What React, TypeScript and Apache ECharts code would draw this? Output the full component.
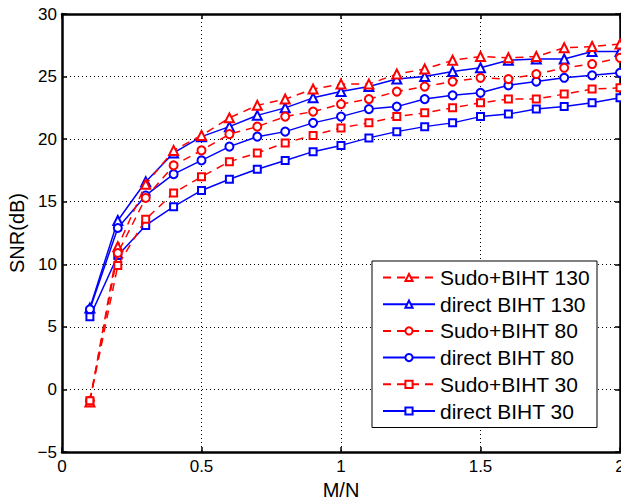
import React, { useEffect, useRef } from "react";
import * as echarts from "echarts";

const xValues = [0.1, 0.2, 0.3, 0.4, 0.5, 0.6, 0.7, 0.8, 0.9, 1.0, 1.1, 1.2, 1.3, 1.4, 1.5, 1.6, 1.7, 1.8, 1.9, 2.0];
const sudo130 = [-1.0, 11.4, 16.4, 19.1, 20.3, 21.7, 22.7, 23.2, 24.0, 24.4, 24.4, 25.2, 25.6, 26.3, 26.6, 26.5, 26.6, 27.3, 27.4, 27.6];
const direct130 = [6.5, 13.5, 16.6, 18.9, 20.2, 21.0, 21.9, 22.5, 23.3, 23.8, 24.2, 24.8, 25.0, 25.4, 25.7, 26.3, 26.4, 26.4, 27.0, 27.0];
const sudo80 = [-0.9, 10.9, 15.3, 17.9, 19.1, 20.4, 21.0, 21.8, 22.2, 22.8, 23.2, 23.8, 24.2, 24.6, 24.9, 24.8, 25.2, 25.7, 26.0, 26.5];
const direct80 = [6.4, 12.9, 15.5, 17.2, 18.3, 19.4, 20.2, 20.6, 21.3, 21.8, 22.4, 22.6, 23.2, 23.5, 23.7, 24.3, 24.6, 24.9, 25.1, 25.3];
const sudo30 = [-0.9, 9.9, 13.6, 15.7, 17.0, 18.2, 18.9, 19.7, 20.3, 20.9, 21.3, 21.8, 22.1, 22.5, 22.9, 23.2, 23.2, 23.6, 24.0, 24.1];
const direct30 = [5.8, 10.7, 13.1, 14.6, 15.9, 16.8, 17.6, 18.3, 19.0, 19.5, 20.1, 20.6, 21.0, 21.3, 21.8, 22.0, 22.4, 22.6, 22.9, 23.3];

const seriesNames = ["Sudo+BIHT 130", "direct BIHT 130", "Sudo+BIHT 80", "direct BIHT 80", "Sudo+BIHT 30", "direct BIHT 30"];
const xTickLabels: Record<string, string> = { "0": "0", "0.5": "0.5", "1": "1", "1.5": "1.5", "2": "2" };

const FONT = "Liberation Sans, Arial, Helvetica, sans-serif";

export default function App() {
  const ref = useRef<HTMLDivElement>(null);
  useEffect(() => {
    if (!ref.current) return;
    const chart = echarts.init(ref.current, null, { renderer: "svg" });
    const datasets = [sudo130, direct130, sudo80, direct80, sudo30, direct30];
    const symbols = ["emptyTriangle", "emptyTriangle", "emptyCircle", "emptyCircle", "emptyRect", "emptyRect"];
    const sizes = [9, 9, 8, 8, 7, 7];
    const series = datasets.map((d, i) => {
      const red = i % 2 === 0;
      const color = red ? "#ff0000" : "#0000ff";
      return {
        name: seriesNames[i],
        type: "line",
        data: d.map((v, j) => [xValues[j], v]),
        symbol: symbols[i],
        symbolSize: sizes[i],
        showAllSymbol: true,
        itemStyle: { color, borderColor: color, borderWidth: 1.3 },
        lineStyle: { color, width: 1.5, type: red ? [8, 6] : "solid" },
        z: red ? 3 : 2,
      };
    });
    const axisLineStyle = { color: "#000", width: 2.5 };
    const tickStyle = { show: true, inside: true, length: 5, lineStyle: { color: "#000", width: 1.5 } };
    const option: any = {
      animation: false,
      textStyle: { fontFamily: FONT },
      grid: {
        left: 62, right: 1, top: 14, bottom: 48,
        outerBoundsMode: "none",
        containLabel: false,
        show: true, borderColor: "#000", borderWidth: 0, backgroundColor: "#fff",
      },
      legend: {
        orient: "vertical",
        left: 372,
        top: 261,
        padding: [6, 7, 6, 10],
        itemWidth: 52,
        itemHeight: 9,
        itemGap: 5.7,
        backgroundColor: "#fff",
        borderColor: "#000",
        borderWidth: 1,
        textStyle: { fontSize: 21, color: "#000", fontFamily: FONT, padding: [0, 0, 0, 0] },
        data: seriesNames,
      },
      xAxis: [
        {
          type: "value",
          min: 0,
          max: 2,
          interval: 0.5,
          name: "M/N",
          nameLocation: "middle",
          nameGap: 27,
          nameTextStyle: { fontSize: 20, color: "#000", fontFamily: FONT },
          axisLine: { show: true, onZero: false, lineStyle: axisLineStyle },
          axisTick: tickStyle,
          axisLabel: { color: "#000", fontSize: 17, margin: 6, formatter: (v: number) => xTickLabels[String(v)] ?? String(v) },
          splitLine: { show: true, lineStyle: { color: "#000", type: [1, 3], width: 1 } },
        },
        {
          type: "value",
          position: "top",
          min: 0,
          max: 2,
          interval: 0.5,
          axisLine: { show: true, onZero: false, lineStyle: axisLineStyle },
          axisTick: tickStyle,
          axisLabel: { show: false },
          splitLine: { show: false },
        },
      ],
      yAxis: [
        {
          type: "value",
          min: -5,
          max: 30,
          interval: 5,
          name: "SNR(dB)",
          nameLocation: "middle",
          nameGap: 35,
          nameTextStyle: { fontSize: 20, color: "#000", fontFamily: FONT },
          axisLine: { show: true, onZero: false, lineStyle: axisLineStyle },
          axisTick: tickStyle,
          axisLabel: { color: "#000", fontSize: 17, margin: 5, formatter: (v: number) => (v < 0 ? "\u2212" + Math.abs(v) : String(v)) },
          splitLine: { show: true, lineStyle: { color: "#000", type: [1, 3], width: 1 } },
        },
        {
          type: "value",
          position: "right",
          min: -5,
          max: 30,
          interval: 5,
          axisLine: { show: true, onZero: false, lineStyle: axisLineStyle },
          axisTick: tickStyle,
          axisLabel: { show: false },
          splitLine: { show: false },
        },
      ],
      series,
    };
    chart.setOption(option);
    return () => chart.dispose();
  }, []);
  return <div ref={ref} style={{ position: "absolute", left: 0, top: 0, width: 621, height: 500 }} />;
}
